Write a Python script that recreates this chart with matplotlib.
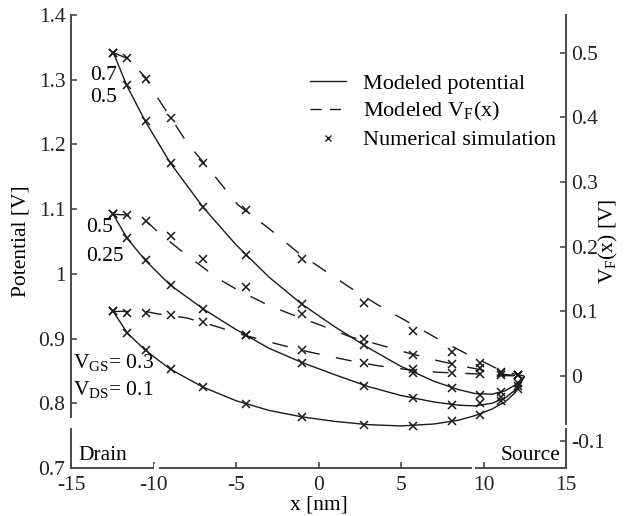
import numpy as np
import matplotlib
matplotlib.use('Agg')
import matplotlib.pyplot as plt
from matplotlib.lines import Line2D
from matplotlib.patches import Rectangle

plt.rcParams['font.family'] = ['Liberation Serif', 'DejaVu Serif']
plt.rcParams['mathtext.fontset'] = 'custom'
plt.rcParams['mathtext.rm'] = 'Liberation Serif'
plt.rcParams['mathtext.it'] = 'Liberation Serif:italic'
plt.rcParams['axes.unicode_minus'] = False

# 数值模拟网格点 [nm]
x_sim = [-12.44, -11.63, -10.47, -8.96, -6.98, -4.39, -1.02, 2.78, 5.75, 8.07, 9.79, 11.06, 12.08]

# 模拟电势 [V]（左轴）
pot_sim_a = [1.342, 1.292, 1.236, 1.172, 1.103, 1.029, 0.954, 0.890, 0.847, 0.823, 0.813, 0.818, 0.831]
pot_sim_b = [1.092, 1.055, 1.021, 0.983, 0.946, 0.905, 0.863, 0.827, 0.808, 0.797, 0.800, 0.810, 0.826]
pot_sim_c = [0.942, 0.909, 0.882, 0.853, 0.825, 0.799, 0.779, 0.767, 0.765, 0.772, 0.782, 0.803, 0.822]

# 模拟 V_F(x) [V]（右轴）
vf_sim_a = [0.500, 0.491, 0.459, 0.399, 0.330, 0.256, 0.181, 0.113, 0.069, 0.038, 0.020, 0.007, 0.002]
vf_sim_b = [0.250, 0.249, 0.239, 0.216, 0.181, 0.138, 0.096, 0.058, 0.033, 0.018, 0.012, 0.005, 0.002]
vf_sim_c = [0.100, 0.098, 0.098, 0.095, 0.084, 0.064, 0.040, 0.021, 0.011, 0.005, 0.004, 0.002, 0.001]

# 模型电势曲线
x_pot = [-12.44, -11.6, -10.5, -9.0, -7.0, -5.0, -3.0, -1.0, 1.0, 3.0, 5.0, 7.0, 8.5, 9.5, 10.5, 11.3, 11.9, 12.47]
pot_a = [1.342, 1.290, 1.236, 1.172, 1.103, 1.045, 0.995, 0.953, 0.918, 0.886, 0.857, 0.834, 0.821, 0.815, 0.814, 0.819, 0.828, 0.841]
pot_b = [1.092, 1.055, 1.021, 0.983, 0.946, 0.914, 0.885, 0.863, 0.844, 0.826, 0.812, 0.802, 0.797, 0.796, 0.800, 0.808, 0.820, 0.841]
pot_c = [0.942, 0.909, 0.882, 0.853, 0.825, 0.804, 0.789, 0.779, 0.772, 0.767, 0.765, 0.768, 0.774, 0.781, 0.791, 0.802, 0.816, 0.841]

# 模型 V_F(x) 曲线
x_vf = [-12.44, -11.6, -10.5, -9.7, -8.0, -6.1, -4.9, -3.0, -1.2, 0.2, 1.9, 3.6, 5.4, 7.2, 9.0, 10.0, 11.1, 12.47]
vf_a = [0.500, 0.491, 0.462, 0.428, 0.362, 0.303, 0.265, 0.228, 0.190, 0.166, 0.137, 0.110, 0.084, 0.058, 0.034, 0.022, 0.008, 0.0]
vf_b = [0.250, 0.249, 0.241, 0.222, 0.187, 0.151, 0.133, 0.109, 0.091, 0.078, 0.061, 0.049, 0.036, 0.024, 0.014, 0.009, 0.003, 0.0]
vf_c = [0.100, 0.100, 0.100, 0.096, 0.090, 0.076, 0.066, 0.053, 0.041, 0.033, 0.024, 0.016, 0.010, 0.006, 0.004, 0.003, 0.001, 0.0]

vf_offset = 0.842  # 右轴零点对应左轴电势
line_col = '#1a1a1a'
spine_col = '#4a4a4a'
fs = 15.5
dash = (0, (11.5, 12))

fig = plt.figure(figsize=(6.26, 5.16), dpi=100)
ax = fig.add_axes([71 / 626, 48 / 516, 495 / 626, 453 / 516])
ax2 = ax.twinx()

for ys in (pot_a, pot_b, pot_c):
    ax.plot(x_pot, ys, color=line_col, lw=1.0)
for ys in (pot_sim_a, pot_sim_b, pot_sim_c):
    ax.plot(x_sim, ys, 'x', color=line_col, ms=6, mew=1.1)

for ys in (vf_a, vf_b, vf_c):
    ax2.plot(x_vf, ys, color=line_col, lw=1.0, linestyle=dash)
for ys in (vf_sim_a, vf_sim_b, vf_sim_c):
    ax2.plot(x_sim, ys, 'x', color=line_col, ms=6, mew=1.1)

ax.set_xlim(-15, 15)
ax.set_ylim(0.7, 1.4)
ax2.set_ylim(0.7 - vf_offset, 1.4 - vf_offset)

ax.set_xticks([-15, -10, -5, 0, 5, 10, 15])
ax.set_yticks([0.7, 0.8, 0.9, 1.0, 1.1, 1.2, 1.3, 1.4])
ax.set_yticklabels(['0.7', '0.8', '0.9', '1', '1.1', '1.2', '1.3', '1.4'])
ax2.set_yticks([-0.1, 0, 0.1, 0.2, 0.3, 0.4, 0.5])
ax2.set_yticklabels(['-0.1', '0', '0.1', '0.2', '0.3', '0.4', '0.5'])

for a in (ax, ax2):
    a.spines['top'].set_visible(False)
    for s in ('left', 'right', 'bottom'):
        a.spines[s].set_color(spine_col)
        a.spines[s].set_linewidth(1.4)
    a.tick_params(direction='in', length=4, width=1.2, color=spine_col,
                  labelsize=fs, pad=4, labelcolor='#222222')
ax.tick_params(axis='x', pad=6)
ax.spines['right'].set_visible(False)
ax2.spines['left'].set_visible(False)
ax2.spines['bottom'].set_visible(False)

ax.set_xlabel('x [nm]', fontsize=fs, labelpad=0)
ax.set_ylabel('Potential [V]', fontsize=fs, labelpad=6)
ax2.set_ylabel(r'V$_{\rm F}$(x) [V]', fontsize=fs, labelpad=-6)

# 曲线标注
ax.text(-12.23, 1.300, '0.7', fontsize=fs, ha='right', va='baseline')
ax.text(-12.23, 1.266, '0.5', fontsize=fs, ha='right', va='baseline')
ax.text(-12.44, 1.065, '0.5', fontsize=fs, ha='right', va='baseline')
ax.text(-11.83, 1.020, '0.25', fontsize=fs, ha='right', va='baseline')
ax.text(-14.88, 0.855, r'V$_{\rm GS}$= 0.3', fontsize=fs, ha='left', va='baseline')
ax.text(-14.88, 0.813, r'V$_{\rm DS}$= 0.1', fontsize=fs, ha='left', va='baseline')
ax.text(-14.52, 0.712, 'Drain', fontsize=fs, ha='left', va='baseline')
ax.text(14.64, 0.712, 'Source', fontsize=fs, ha='right', va='baseline')

handles = [
    Line2D([], [], color=line_col, lw=1.0),
    Line2D([], [], color=line_col, lw=1.0, linestyle=(0, (8, 6))),
    Line2D([], [], color=line_col, marker='x', linestyle='none', ms=5, mew=1.0),
]
labels = ['Modeled potential', r'Modeled V$_{\rm F}$(x)', 'Numerical simulation']
fig.legend(handles, labels, loc='upper left', bbox_to_anchor=(310 / 626, 1 - 73 / 516),
           frameon=False, fontsize=16, handlelength=1.6, handletextpad=0.8,
           borderpad=0, borderaxespad=0, labelspacing=0.3)

# 坐标轴断口
for (px, py, w, h) in [(67, 418, 8, 10), (154, 464, 5, 8), (472, 464, 3, 8), (562, 425, 8, 3)]:
    fig.add_artist(Rectangle((px / 626, 1 - (py + h) / 516), w / 626, h / 516,
                             transform=fig.transFigure, color='white', zorder=10, lw=0))

fig.savefig('out.png', dpi=100)
